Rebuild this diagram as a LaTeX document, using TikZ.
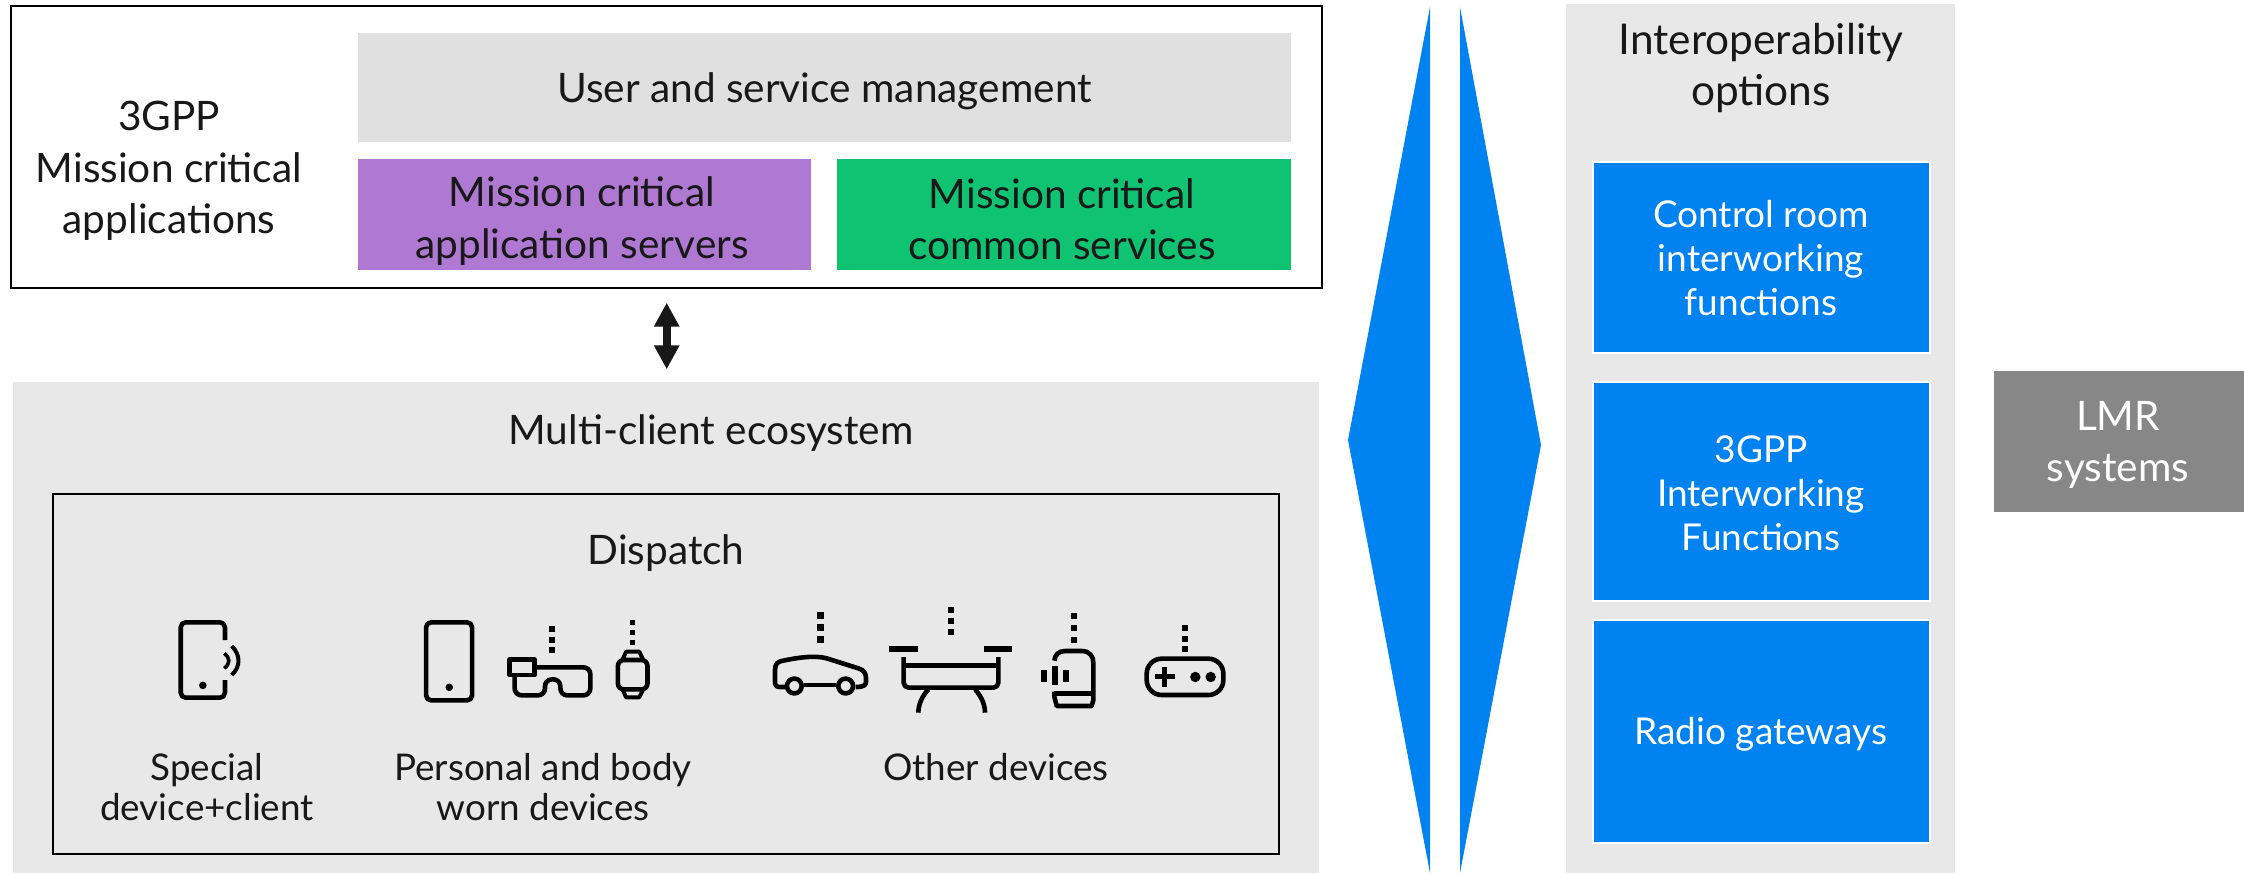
\documentclass[tikz,border=0pt]{standalone}
\usepackage{fontspec}
\setmainfont{Lato}
\usetikzlibrary{arrows.meta}
\definecolor{ebl}{HTML}{0082F0}
\definecolor{epu}{HTML}{AF78D2}
\definecolor{egr}{HTML}{0FC373}
\definecolor{eg1}{HTML}{E0E0E0}
\definecolor{eg2}{HTML}{E8E8E8}
\definecolor{eg3}{HTML}{878787}
\definecolor{ink}{HTML}{181818}
\newcommand{\pxbox}[7]{%
 \pgfmathsetlengthmacro{\bw}{(#5-#3)*0.5pt}%
 \pgfmathsetlengthmacro{\bh}{(#6-#4)*0.5pt}%
 \node[box,#2,minimum width=\bw,minimum height=\bh] (#1) at ({(#3+#5)/2},{(#4+#6)/2}) {#7};}
\tikzset{
 box/.style={inner sep=0pt,outer sep=0pt,align=center,text=ink},
 big/.style={font=\fontsize{20.3}{25.7}\selectfont},
 bigger/.style={font=\fontsize{21.2}{25.7}\selectfont},
 mid/.style={font=\fontsize{18.5}{22}\selectfont},
 small/.style={font=\fontsize{18.4}{19.7}\selectfont},
 bluebox/.style={fill=ebl,draw=white,line width=1pt},
 wlab/.style={lab,text=white,mid},
 icon/.style={draw=black,line width=2.3pt,line join=round,fill=none},
 dotm/.style={fill=black,draw=none},
 lab/.style={inner sep=0pt,align=center,text=ink},
 cropa/.style={x=0.17857pt,y=-0.16667pt},
 cropb/.style={x=0.16667pt,y=-0.16667pt}
}
\begin{document}
\begin{tikzpicture}[x=0.5pt,y=-0.5pt]
\useasboundingbox (0,0) rectangle (2244,873);
\fill[white] (0,0) rectangle (2244,873);
% top block
\pxbox{top}{draw=black,line width=1.2pt}{11}{6}{1322}{288}{}
\node[lab,big] (tl) at (169,171) {3GPP\\Mission critical\\applications};
\pxbox{usm}{fill=eg1}{358}{33}{1291}{142}{}
\node[lab,big] (usmt) at (824.5,91) {User and service management};
\pxbox{mcas}{fill=epu}{358}{159}{811}{270}{}
\node[lab,big] (mcast) at (582,221) {Mission critical\\application servers};
\pxbox{mccs}{fill=egr}{837}{159}{1291}{270}{}
\node[lab,big] (mccst) at (1062,219) {Mission critical\\common services};
% multi client
\pxbox{multi}{fill=eg2}{13}{382}{1319}{873}{}
\node[lab,big] (mt) at (711,433) {Multi-client ecosystem};
\pxbox{disp}{draw=black,line width=1.2pt}{53}{494}{1279}{854}{}
\node[lab,big] (dt) at (666,553) {Dispatch};
\node[lab,small] (l1) at (207,787) {Special\\device+client};
\node[lab,small] (l2) at (543,787) {Personal and body\\worn devices};
\node[lab,small] (l3) at (996,767) {Other devices};
% arrow
\coordinate (au) at (666.7,302.7);
\coordinate (ad) at (666.7,369.3);
\draw[draw=ink,line width=4pt,{Triangle[length=12pt,width=12pt,fill=ink]}-{Triangle[length=12pt,width=12pt,fill=ink]}] (au) -- (ad);
% diamonds
\fill[ebl] (1430,7) -- (1348,440) -- (1430,873) -- cycle;
\fill[ebl] (1460,7) -- (1541,445) -- (1460,873) -- cycle;
% interop
\pxbox{inter}{fill=eg2}{1566}{4}{1955}{873}{}
\node[lab,bigger] (it) at (1761,68) {Interoperability\\options};
\pxbox{b1}{bluebox}{1593}{162}{1930}{353}{}
\node[wlab] (b1t) at (1761,258) {Control room\\interworking\\functions};
\pxbox{b2}{bluebox}{1593}{382}{1930}{601}{}
\node[wlab] (b2t) at (1761,493) {3GPP\\Interworking\\Functions};
\pxbox{b3}{bluebox}{1593}{620}{1930}{843}{}
\node[wlab] (b3t) at (1761,734) {Radio gateways};
\pxbox{lmr}{fill=eg3}{1994}{371}{2244}{512}{}
\node[lab,big,text=white] (lmrt) at (2118,445) {LMR\\systems};
% icons left
\begin{scope}[shift={(130,590)},cropa]
 \draw[icon,rounded corners=2.5pt] (266,150) -- (266,97) -- (142,97) -- (142,323) -- (266,323) -- (266,270);
 \fill[dotm] (204,286) circle (1.9pt);
 \draw[icon,line width=1.8pt] (264,190) .. controls (281,205) and (281,220) .. (264,235);
 \draw[icon,line width=2pt] (285,168) .. controls (310,195) and (310,230) .. (285,255);
 \draw[icon,rounded corners=2.5pt] (829,97) rectangle (958,331);
 \fill[dotm] (894,292) circle (1.9pt);
 \draw[icon] (1063,209) rectangle (1133,255);
 \draw[icon,rounded corners=3.5pt] (1133,232) -- (1289,232) -- (1289,316) -- (1205,316) -- (1205,268) -- (1162,268) -- (1162,316) -- (1077,316) -- (1077,255);
 \foreach \yy in {117,149,180} \fill[dotm] (1172,\yy-9) rectangle (1190,\yy+9);
 \draw[icon,rounded corners=3pt] (1366,210) rectangle (1449,298);
 \draw[icon,line width=2pt] (1380,207) -- (1389,185) -- (1426,185) -- (1436,207);
 \draw[icon,line width=2pt] (1380,300) -- (1389,322) -- (1426,322) -- (1436,300);
 \foreach \yy in {97,127,157} \fill[dotm] (1400,\yy-7) rectangle (1414,\yy+7);
\end{scope}
% icons right
\begin{scope}[shift={(740,590)},cropb]
 \draw[icon] (135,291) -- (120,291) .. controls (108,291) and (105,285) .. (105,275) -- (105,240) .. controls (105,220) and (115,215) .. (125,213) .. controls (170,203) and (225,195) .. (260,205) -- (355,235) .. controls (372,240) and (378,250) .. (378,265) -- (378,275) .. controls (378,285) and (372,291) .. (347,291);
 \draw[icon] (193,285) -- (288,285);
 \draw[icon,fill=eg2] (163,288) circle (3.7pt);
 \draw[icon,fill=eg2] (317,288) circle (3.7pt);
 \foreach \yy in {76,112,148} \fill[dotm] (231,\yy-10) rectangle (252,\yy+10);
 \fill[dotm] (447,168) rectangle (533,186);
 \fill[dotm] (732,168) rectangle (816,186);
 \draw[icon,rounded corners=2.5pt] (491,201) -- (491,293) -- (775,293) -- (775,201);
 \draw[icon] (491,226) -- (775,226);
 \draw[icon] (565,298) .. controls (545,320) and (535,345) .. (535,368);
 \draw[icon] (705,298) .. controls (725,320) and (735,345) .. (735,368);
 \foreach \yy in {60,93,126} \fill[dotm] (624,\yy-9) rectangle (642,\yy+9);
 \draw[icon] (943,212) .. controls (945,195) and (955,183) .. (975,183) -- (1025,183) .. controls (1050,183) and (1060,200) .. (1060,218) -- (1060,330) -- (1055,348) -- (950,348) -- (943,320) -- (943,305);
 \draw[icon] (943,310) -- (1060,310);
 \foreach \yy in {78,113,150} \fill[dotm] (993,\yy-9) rectangle (1011,\yy+9);
 \fill[dotm] (903,239) rectangle (921,275);
 \fill[dotm] (936,228) rectangle (954,286);
 \fill[dotm] (969,239) rectangle (986,275);
 \draw[icon,rounded corners=7.5pt] (1220,206) rectangle (1450,315);
 \fill[dotm] (1267,230) rectangle (1282,292);
 \fill[dotm] (1244,253) rectangle (1305,268);
 \fill[dotm] (1366,261) circle (2.6pt);
 \fill[dotm] (1412,261) circle (2.6pt);
 \foreach \yy in {113,147,177} \fill[dotm] (1326,\yy-9) rectangle (1344,\yy+9);
\end{scope}
\end{tikzpicture}
\end{document}
